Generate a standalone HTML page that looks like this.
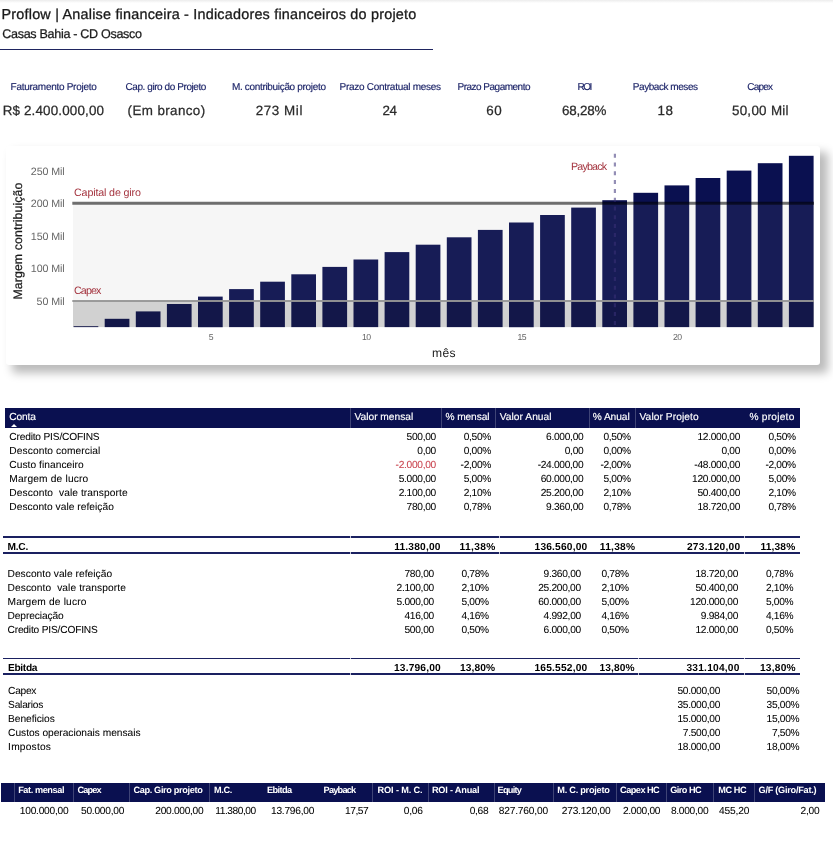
<!DOCTYPE html>
<html lang="pt-BR"><head><meta charset="utf-8"><title>Proflow | Analise financeira</title>
<style>
*{margin:0;padding:0;box-sizing:border-box}
html,body{width:833px;height:842px;background:#fff;overflow:hidden}
body{position:relative;font-family:"Liberation Sans", sans-serif;-webkit-font-smoothing:antialiased;text-rendering:geometricPrecision}
.page{position:absolute;left:0;top:0;width:833px;height:842px;overflow:hidden;background:#fff}
.page span{position:absolute;white-space:pre;line-height:14px;height:14px;display:block}
.topfade{position:absolute;left:0;top:0;width:833px;height:3px;background:linear-gradient(#ececec,#fff)}
.rule{position:absolute;left:0;top:49px;width:433px;height:1.4px;background:#1f2560}
.t1{font-size:14.4px;color:#1a1a1a;-webkit-text-stroke-width:0.3px}
.t2{font-size:12.6px;color:#1a1a1a;-webkit-text-stroke-width:0.25px}
.kl{font-size:10px;color:#1c2468;-webkit-text-stroke-width:0.15px}
.kv{font-size:13.4px;color:#2b2b2b;-webkit-text-stroke-width:0.25px}
.card{position:absolute;left:6px;top:146px;width:814px;height:218.8px;background:#fff;border-radius:3px;box-shadow:7px 7px 10px 1px rgba(0,0,0,0.27)}
.chart{position:absolute;left:0;top:0}
.chart text{font-family:"Liberation Sans", sans-serif}
.ax{font-size:10.4px;color:#666}
.thead{position:absolute;left:5px;top:408.3px;width:794.6px;height:20.1px;background:#0a1050}
.bhead{position:absolute;left:1.3px;top:783.3px;width:823.3px;height:18.6px;background:#0a1050}
.th{font-size:10.2px;color:#fff;-webkit-text-stroke-width:0.15px}
.td{font-size:10.2px;color:#000;-webkit-text-stroke-width:0.06px}
.tot{font-size:10.2px;font-weight:700;color:#000}
.bth{font-size:9.2px;font-weight:700;color:#fff}
.btd{font-size:10.2px;color:#000;-webkit-text-stroke-width:0.06px}
.vs{position:absolute;width:1px;display:block}
.hl{position:absolute;display:block;background:#1a2060}
.hg{position:absolute;display:block;width:1px;background:rgba(255,255,255,0.75)}
.tri{position:absolute;left:10.6px;top:424px;width:0;height:0;border-left:3px solid transparent;border-right:3px solid transparent;border-bottom:3.2px solid #fff}
</style></head>
<body><div class="page">
<div class="topfade"></div>
<header>
<span class="t1" style="left:1.50px;top:8px;letter-spacing:0.210px;">Proflow | Analise financeira - Indicadores financeiros do projeto</span>
<span class="t2" style="left:2.30px;top:27px;letter-spacing:-0.331px;">Casas Bahia - CD Osasco</span>
<div class="rule"></div>
</header>
<section class="kpis">
<span class="kl" style="left:10.60px;top:81px;letter-spacing:-0.278px;">Faturamento Projeto</span>
<span class="kl" style="left:125.50px;top:81px;letter-spacing:-0.425px;">Cap. giro do Projeto</span>
<span class="kl" style="left:231.90px;top:81px;letter-spacing:-0.323px;">M. contribuição projeto</span>
<span class="kl" style="left:339.60px;top:81px;letter-spacing:-0.280px;">Prazo Contratual meses</span>
<span class="kl" style="left:457.50px;top:81px;letter-spacing:-0.506px;">Prazo Pagamento</span>
<span class="kl" style="left:577.40px;top:81px;letter-spacing:-1.400px;">ROI</span>
<span class="kl" style="left:632.80px;top:81px;letter-spacing:-0.449px;">Payback meses</span>
<span class="kl" style="left:747.20px;top:81px;letter-spacing:-0.777px;">Capex</span>
<span class="kv" style="left:2.70px;top:104px;letter-spacing:0.159px;">R$ 2.400.000,00</span>
<span class="kv" style="left:127.60px;top:104px;letter-spacing:0.389px;">(Em branco)</span>
<span class="kv" style="left:255.70px;top:104px;letter-spacing:0.585px;">273 Mil</span>
<span class="kv" style="left:382.40px;top:104px;letter-spacing:-0.347px;">24</span>
<span class="kv" style="left:486.30px;top:104px;letter-spacing:0.553px;">60</span>
<span class="kv" style="left:562.00px;top:104px;letter-spacing:-0.222px;">68,28%</span>
<span class="kv" style="left:657.40px;top:104px;letter-spacing:0.553px;">18</span>
<span class="kv" style="left:731.90px;top:104px;letter-spacing:0.293px;">50,00 Mil</span>
</section>
<section class="chartwrap">
<div class="card"></div>
<svg class="chart" width="833" height="400" viewBox="0 0 833 400"><g fill="#0a1050"><rect x="73.6" y="326.2" width="24.7" height="0.9"/><rect x="104.7" y="318.8" width="24.7" height="8.3"/><rect x="135.8" y="311.4" width="24.7" height="15.7"/><rect x="166.9" y="304.0" width="24.7" height="23.1"/><rect x="198.0" y="296.6" width="24.7" height="30.6"/><rect x="229.1" y="289.1" width="24.7" height="38.0"/><rect x="260.2" y="281.7" width="24.7" height="45.4"/><rect x="291.3" y="274.3" width="24.7" height="52.8"/><rect x="322.4" y="266.9" width="24.7" height="60.2"/><rect x="353.5" y="259.5" width="24.7" height="67.6"/><rect x="384.6" y="252.1" width="24.7" height="75.0"/><rect x="415.7" y="244.7" width="24.7" height="82.4"/><rect x="446.8" y="237.3" width="24.7" height="89.8"/><rect x="477.9" y="229.9" width="24.7" height="97.2"/><rect x="509.0" y="222.5" width="24.7" height="104.7"/><rect x="540.1" y="215.0" width="24.7" height="112.1"/><rect x="571.2" y="207.6" width="24.7" height="119.5"/><rect x="602.3" y="200.2" width="24.7" height="126.9"/><rect x="633.4" y="192.8" width="24.7" height="134.3"/><rect x="664.5" y="185.4" width="24.7" height="141.7"/><rect x="695.6" y="178.0" width="24.7" height="149.1"/><rect x="726.7" y="170.6" width="24.7" height="156.5"/><rect x="757.8" y="163.2" width="24.7" height="163.9"/><rect x="788.9" y="155.8" width="24.7" height="171.3"/></g>
<rect x="73" y="203.3" width="741" height="123.8" fill="rgba(160,160,160,0.09)"/>
<rect x="73" y="301" width="741" height="26.1" fill="rgba(0,0,0,0.15)"/>
<line x1="72.3" x2="814" y1="203.3" y2="203.3" stroke="rgba(0,0,0,0.56)" stroke-width="2.9"/>
<line x1="72.3" x2="814" y1="301" y2="301" stroke="rgba(150,150,150,0.95)" stroke-width="2.2"/>
<line x1="614.9" x2="614.9" y1="153.7" y2="327.1" stroke="rgba(58,50,120,0.55)" stroke-width="2.2" stroke-dasharray="4 4.8"/>
<text transform="translate(22.1 299.6) rotate(-90)" font-size="12.3" fill="#1a1a1a" stroke="#1a1a1a" stroke-width="0.25" textLength="117" lengthAdjust="spacing">Margem contribuição</text></svg>
<span class="ax" style="left:30.80px;top:165px;letter-spacing:-0.113px;font-size:10.7px;color:#666666;">250 Mil</span>
<span class="ax" style="left:30.80px;top:197px;letter-spacing:-0.113px;font-size:10.7px;color:#666666;">200 Mil</span>
<span class="ax" style="left:30.80px;top:230px;letter-spacing:-0.113px;font-size:10.7px;color:#666666;">150 Mil</span>
<span class="ax" style="left:30.80px;top:262px;letter-spacing:-0.113px;font-size:10.7px;color:#666666;">100 Mil</span>
<span class="ax" style="left:36.60px;top:295px;letter-spacing:-0.107px;font-size:10.7px;color:#666666;">50 Mil</span>
<span class="ax" style="left:208.75px;top:330px;letter-spacing:-0.300px;font-size:8.7px;color:#666666;">5</span>
<span class="ax" style="left:361.90px;top:330px;letter-spacing:-0.432px;font-size:8.7px;color:#666666;">10</span>
<span class="ax" style="left:517.40px;top:330px;letter-spacing:-0.432px;font-size:8.7px;color:#666666;">15</span>
<span class="ax" style="left:672.90px;top:330px;letter-spacing:-0.432px;font-size:8.7px;color:#666666;">20</span>
<span class="ax" style="left:431.90px;top:346px;letter-spacing:0.450px;font-size:12.1px;color:#1a1a1a;">mês</span>
<span class="ax" style="left:74.00px;top:186px;letter-spacing:-0.141px;font-size:10.7px;color:#a4343f;">Capital de giro</span>
<span class="ax" style="left:74.00px;top:284px;letter-spacing:-0.887px;font-size:10.7px;color:#a4343f;">Capex</span>
<span class="ax" style="left:571.00px;top:160px;letter-spacing:-0.825px;font-size:10.7px;color:#a4343f;">Payback</span>
</section>
<section class="table">
<div class="thead"></div>
<i class="vs" style="left:350.3px;top:408.3px;height:20.1px;background:rgba(255,255,255,0.22)"></i><i class="vs" style="left:441.4px;top:408.3px;height:20.1px;background:rgba(255,255,255,0.22)"></i><i class="vs" style="left:495.0px;top:408.3px;height:20.1px;background:rgba(255,255,255,0.22)"></i><i class="vs" style="left:588.8px;top:408.3px;height:20.1px;background:rgba(255,255,255,0.22)"></i><i class="vs" style="left:635.4px;top:408.3px;height:20.1px;background:rgba(255,255,255,0.22)"></i>
<div class="tri"></div>
<span class="th" style="left:9.20px;top:411px;letter-spacing:-0.105px;">Conta</span>
<span class="th" style="left:354.50px;top:411px;">Valor mensal</span>
<span class="th" style="left:445.50px;top:411px;letter-spacing:-0.109px;">% mensal</span>
<span class="th" style="left:499.80px;top:411px;letter-spacing:0.035px;">Valor Anual</span>
<span class="th" style="left:592.70px;top:411px;letter-spacing:-0.064px;">% Anual</span>
<span class="th" style="left:639.50px;top:411px;letter-spacing:0.086px;">Valor Projeto</span>
<span class="th" style="left:749.40px;top:411px;letter-spacing:0.241px;">% projeto</span>
<span class="td" style="left:9.30px;top:431px;letter-spacing:-0.183px;">Credito PIS/COFINS</span>
<span class="td" style="left:406.61px;top:431px;letter-spacing:-0.300px;">500,00</span>
<span class="td" style="left:463.67px;top:431px;letter-spacing:-0.300px;">0,50%</span>
<span class="td" style="left:546.11px;top:431px;letter-spacing:-0.300px;">6.000,00</span>
<span class="td" style="left:603.47px;top:431px;letter-spacing:-0.300px;">0,50%</span>
<span class="td" style="left:697.44px;top:431px;letter-spacing:-0.300px;">12.000,00</span>
<span class="td" style="left:768.47px;top:431px;letter-spacing:-0.300px;">0,50%</span>
<span class="td" style="left:9.30px;top:445px;letter-spacing:0.094px;">Desconto comercial</span>
<span class="td" style="left:417.34px;top:445px;letter-spacing:-0.300px;">0,00</span>
<span class="td" style="left:463.67px;top:445px;letter-spacing:-0.300px;">0,00%</span>
<span class="td" style="left:564.74px;top:445px;letter-spacing:-0.300px;">0,00</span>
<span class="td" style="left:603.47px;top:445px;letter-spacing:-0.300px;">0,00%</span>
<span class="td" style="left:721.44px;top:445px;letter-spacing:-0.300px;">0,00</span>
<span class="td" style="left:768.47px;top:445px;letter-spacing:-0.300px;">0,00%</span>
<span class="td" style="left:9.30px;top:459px;letter-spacing:0.050px;">Custo financeiro</span>
<span class="td" style="left:395.62px;top:459px;letter-spacing:-0.300px;color:#c9434e;">-2.000,00</span>
<span class="td" style="left:460.58px;top:459px;letter-spacing:-0.300px;">-2,00%</span>
<span class="td" style="left:537.65px;top:459px;letter-spacing:-0.300px;">-24.000,00</span>
<span class="td" style="left:600.38px;top:459px;letter-spacing:-0.300px;">-2,00%</span>
<span class="td" style="left:694.35px;top:459px;letter-spacing:-0.300px;">-48.000,00</span>
<span class="td" style="left:765.38px;top:459px;letter-spacing:-0.300px;">-2,00%</span>
<span class="td" style="left:9.30px;top:473px;letter-spacing:0.181px;">Margem de lucro</span>
<span class="td" style="left:398.71px;top:473px;letter-spacing:-0.300px;">5.000,00</span>
<span class="td" style="left:463.67px;top:473px;letter-spacing:-0.300px;">5,00%</span>
<span class="td" style="left:540.74px;top:473px;letter-spacing:-0.300px;">60.000,00</span>
<span class="td" style="left:603.47px;top:473px;letter-spacing:-0.300px;">5,00%</span>
<span class="td" style="left:692.08px;top:473px;letter-spacing:-0.300px;">120.000,00</span>
<span class="td" style="left:768.47px;top:473px;letter-spacing:-0.300px;">5,00%</span>
<span class="td" style="left:9.30px;top:487px;letter-spacing:0.095px;">Desconto &nbsp;vale transporte</span>
<span class="td" style="left:398.71px;top:487px;letter-spacing:-0.300px;">2.100,00</span>
<span class="td" style="left:463.67px;top:487px;letter-spacing:-0.300px;">2,10%</span>
<span class="td" style="left:540.74px;top:487px;letter-spacing:-0.300px;">25.200,00</span>
<span class="td" style="left:603.47px;top:487px;letter-spacing:-0.300px;">2,10%</span>
<span class="td" style="left:697.44px;top:487px;letter-spacing:-0.300px;">50.400,00</span>
<span class="td" style="left:768.47px;top:487px;letter-spacing:-0.300px;">2,10%</span>
<span class="td" style="left:9.30px;top:501px;letter-spacing:0.045px;">Desconto vale refeição</span>
<span class="td" style="left:406.61px;top:501px;letter-spacing:-0.300px;">780,00</span>
<span class="td" style="left:463.67px;top:501px;letter-spacing:-0.300px;">0,78%</span>
<span class="td" style="left:546.11px;top:501px;letter-spacing:-0.300px;">9.360,00</span>
<span class="td" style="left:603.47px;top:501px;letter-spacing:-0.300px;">0,78%</span>
<span class="td" style="left:697.44px;top:501px;letter-spacing:-0.300px;">18.720,00</span>
<span class="td" style="left:768.47px;top:501px;letter-spacing:-0.300px;">0,78%</span>
<span class="td" style="left:7.50px;top:568px;letter-spacing:0.045px;">Desconto vale refeição</span>
<span class="td" style="left:404.51px;top:568px;letter-spacing:-0.300px;">780,00</span>
<span class="td" style="left:461.47px;top:568px;letter-spacing:-0.300px;">0,78%</span>
<span class="td" style="left:543.61px;top:568px;letter-spacing:-0.300px;">9.360,00</span>
<span class="td" style="left:601.47px;top:568px;letter-spacing:-0.300px;">0,78%</span>
<span class="td" style="left:695.44px;top:568px;letter-spacing:-0.300px;">18.720,00</span>
<span class="td" style="left:765.97px;top:568px;letter-spacing:-0.300px;">0,78%</span>
<span class="td" style="left:7.50px;top:582px;letter-spacing:0.095px;">Desconto &nbsp;vale transporte</span>
<span class="td" style="left:396.61px;top:582px;letter-spacing:-0.300px;">2.100,00</span>
<span class="td" style="left:461.47px;top:582px;letter-spacing:-0.300px;">2,10%</span>
<span class="td" style="left:538.24px;top:582px;letter-spacing:-0.300px;">25.200,00</span>
<span class="td" style="left:601.47px;top:582px;letter-spacing:-0.300px;">2,10%</span>
<span class="td" style="left:695.44px;top:582px;letter-spacing:-0.300px;">50.400,00</span>
<span class="td" style="left:765.97px;top:582px;letter-spacing:-0.300px;">2,10%</span>
<span class="td" style="left:7.50px;top:596px;letter-spacing:0.181px;">Margem de lucro</span>
<span class="td" style="left:396.61px;top:596px;letter-spacing:-0.300px;">5.000,00</span>
<span class="td" style="left:461.47px;top:596px;letter-spacing:-0.300px;">5,00%</span>
<span class="td" style="left:538.24px;top:596px;letter-spacing:-0.300px;">60.000,00</span>
<span class="td" style="left:601.47px;top:596px;letter-spacing:-0.300px;">5,00%</span>
<span class="td" style="left:690.08px;top:596px;letter-spacing:-0.300px;">120.000,00</span>
<span class="td" style="left:765.97px;top:596px;letter-spacing:-0.300px;">5,00%</span>
<span class="td" style="left:7.50px;top:610px;letter-spacing:-0.103px;">Depreciação</span>
<span class="td" style="left:404.51px;top:610px;letter-spacing:-0.300px;">416,00</span>
<span class="td" style="left:461.47px;top:610px;letter-spacing:-0.300px;">4,16%</span>
<span class="td" style="left:543.61px;top:610px;letter-spacing:-0.300px;">4.992,00</span>
<span class="td" style="left:601.47px;top:610px;letter-spacing:-0.300px;">4,16%</span>
<span class="td" style="left:700.81px;top:610px;letter-spacing:-0.300px;">9.984,00</span>
<span class="td" style="left:765.97px;top:610px;letter-spacing:-0.300px;">4,16%</span>
<span class="td" style="left:7.50px;top:624px;letter-spacing:-0.183px;">Credito PIS/COFINS</span>
<span class="td" style="left:404.51px;top:624px;letter-spacing:-0.300px;">500,00</span>
<span class="td" style="left:461.47px;top:624px;letter-spacing:-0.300px;">0,50%</span>
<span class="td" style="left:543.61px;top:624px;letter-spacing:-0.300px;">6.000,00</span>
<span class="td" style="left:601.47px;top:624px;letter-spacing:-0.300px;">0,50%</span>
<span class="td" style="left:695.44px;top:624px;letter-spacing:-0.300px;">12.000,00</span>
<span class="td" style="left:765.97px;top:624px;letter-spacing:-0.300px;">0,50%</span>
<span class="td" style="left:8.10px;top:685px;letter-spacing:-0.289px;">Capex</span>
<span class="td" style="left:677.44px;top:685px;letter-spacing:-0.300px;">50.000,00</span>
<span class="td" style="left:766.61px;top:685px;letter-spacing:-0.300px;">50,00%</span>
<span class="td" style="left:8.10px;top:699px;letter-spacing:-0.230px;">Salarios</span>
<span class="td" style="left:677.44px;top:699px;letter-spacing:-0.300px;">35.000,00</span>
<span class="td" style="left:766.61px;top:699px;letter-spacing:-0.300px;">35,00%</span>
<span class="td" style="left:8.10px;top:713px;letter-spacing:-0.034px;">Beneficios</span>
<span class="td" style="left:677.44px;top:713px;letter-spacing:-0.300px;">15.000,00</span>
<span class="td" style="left:766.61px;top:713px;letter-spacing:-0.300px;">15,00%</span>
<span class="td" style="left:8.10px;top:727px;letter-spacing:-0.026px;">Custos operacionais mensais</span>
<span class="td" style="left:682.81px;top:727px;letter-spacing:-0.300px;">7.500,00</span>
<span class="td" style="left:771.97px;top:727px;letter-spacing:-0.300px;">7,50%</span>
<span class="td" style="left:8.10px;top:741px;letter-spacing:0.209px;">Impostos</span>
<span class="td" style="left:677.44px;top:741px;letter-spacing:-0.300px;">18.000,00</span>
<span class="td" style="left:766.61px;top:741px;letter-spacing:-0.300px;">18,00%</span>
<i class="hl" style="left:3.3px;top:536.25px;width:796.5px;height:1.5px"></i><i class="hg" style="left:350.0px;top:535.95px;height:2.1px"></i><i class="hg" style="left:499.0px;top:535.95px;height:2.1px"></i><i class="hg" style="left:743.7px;top:535.95px;height:2.1px"></i>
<i class="hl" style="left:3.3px;top:551.95px;width:796.5px;height:1.9px"></i><i class="hg" style="left:350.0px;top:551.65px;height:2.5px"></i><i class="hg" style="left:499.0px;top:551.65px;height:2.5px"></i><i class="hg" style="left:743.7px;top:551.65px;height:2.5px"></i>
<i class="hl" style="left:3.3px;top:657.85px;width:796.5px;height:1.5px"></i><i class="hg" style="left:350.0px;top:657.55px;height:2.1px"></i><i class="hg" style="left:638.0px;top:657.55px;height:2.1px"></i><i class="hg" style="left:743.7px;top:657.55px;height:2.1px"></i>
<i class="hl" style="left:3.3px;top:673.15px;width:796.5px;height:1.9px"></i><i class="hg" style="left:350.0px;top:672.85px;height:2.5px"></i><i class="hg" style="left:638.0px;top:672.85px;height:2.5px"></i><i class="hg" style="left:743.7px;top:672.85px;height:2.5px"></i>
<span class="tot" style="left:7.50px;top:541px;letter-spacing:-0.258px;">M.C.</span>
<span class="tot" style="left:394.20px;top:541px;letter-spacing:0.188px;">11.380,00</span>
<span class="tot" style="left:459.60px;top:541px;letter-spacing:0.354px;">11,38%</span>
<span class="tot" style="left:534.60px;top:541px;letter-spacing:0.175px;">136.560,00</span>
<span class="tot" style="left:599.80px;top:541px;letter-spacing:0.254px;">11,38%</span>
<span class="tot" style="left:686.90px;top:541px;letter-spacing:0.253px;">273.120,00</span>
<span class="tot" style="left:760.40px;top:541px;letter-spacing:0.174px;">11,38%</span>
<span class="tot" style="left:8.00px;top:662px;letter-spacing:-0.333px;">Ebitda</span>
<span class="tot" style="left:394.00px;top:662px;letter-spacing:0.168px;">13.796,00</span>
<span class="tot" style="left:460.00px;top:662px;letter-spacing:0.101px;">13,80%</span>
<span class="tot" style="left:534.50px;top:662px;letter-spacing:0.198px;">165.552,00</span>
<span class="tot" style="left:599.50px;top:662px;letter-spacing:0.121px;">13,80%</span>
<span class="tot" style="left:686.50px;top:662px;letter-spacing:0.209px;">331.104,00</span>
<span class="tot" style="left:760.00px;top:662px;letter-spacing:0.201px;">13,80%</span>
</section>
<section class="bottom">
<div class="bhead"></div>
<i class="vs" style="left:13.8px;top:783.3px;height:18.6px;background:rgba(255,255,255,0.22)"></i><i class="vs" style="left:73.4px;top:783.3px;height:18.6px;background:rgba(255,255,255,0.22)"></i><i class="vs" style="left:128.6px;top:783.3px;height:18.6px;background:rgba(255,255,255,0.22)"></i><i class="vs" style="left:209.1px;top:783.3px;height:18.6px;background:rgba(255,255,255,0.22)"></i><i class="vs" style="left:372.3px;top:783.3px;height:18.6px;background:rgba(255,255,255,0.22)"></i><i class="vs" style="left:427.5px;top:783.3px;height:18.6px;background:rgba(255,255,255,0.22)"></i><i class="vs" style="left:493.9px;top:783.3px;height:18.6px;background:rgba(255,255,255,0.22)"></i><i class="vs" style="left:552.7px;top:783.3px;height:18.6px;background:rgba(255,255,255,0.22)"></i><i class="vs" style="left:616.0px;top:783.3px;height:18.6px;background:rgba(255,255,255,0.22)"></i><i class="vs" style="left:665.5px;top:783.3px;height:18.6px;background:rgba(255,255,255,0.22)"></i><i class="vs" style="left:713.4px;top:783.3px;height:18.6px;background:rgba(255,255,255,0.22)"></i><i class="vs" style="left:753.5px;top:783.3px;height:18.6px;background:rgba(255,255,255,0.22)"></i>
<span class="bth" style="left:18.20px;top:783px;letter-spacing:-0.430px;">Fat. mensal</span>
<span class="bth" style="left:77.60px;top:783px;letter-spacing:-0.892px;">Capex</span>
<span class="bth" style="left:133.40px;top:783px;letter-spacing:-0.351px;">Cap. Giro projeto</span>
<span class="bth" style="left:214.10px;top:783px;letter-spacing:-0.380px;">M.C.</span>
<span class="bth" style="left:267.10px;top:783px;letter-spacing:-0.633px;">Ebitda</span>
<span class="bth" style="left:323.60px;top:783px;letter-spacing:-0.780px;">Payback</span>
<span class="bth" style="left:377.60px;top:783px;letter-spacing:-0.139px;">ROI - M. C.</span>
<span class="bth" style="left:431.90px;top:783px;letter-spacing:-0.207px;">ROI - Anual</span>
<span class="bth" style="left:497.60px;top:783px;letter-spacing:-0.753px;">Equity</span>
<span class="bth" style="left:557.30px;top:783px;letter-spacing:-0.260px;">M. C. projeto</span>
<span class="bth" style="left:620.10px;top:783px;letter-spacing:-0.538px;">Capex HC</span>
<span class="bth" style="left:670.20px;top:783px;letter-spacing:-0.529px;">Giro HC</span>
<span class="bth" style="left:718.20px;top:783px;letter-spacing:-0.394px;">MC HC</span>
<span class="bth" style="left:758.50px;top:783px;letter-spacing:-0.264px;">G/F (Giro/Fat.)</span>
<span class="btd" style="left:19.80px;top:805px;letter-spacing:-0.247px;">100.000,00</span>
<span class="btd" style="left:81.00px;top:805px;letter-spacing:-0.244px;">50.000,00</span>
<span class="btd" style="left:155.30px;top:805px;letter-spacing:-0.291px;">200.000,00</span>
<span class="btd" style="left:215.30px;top:805px;letter-spacing:-0.462px;">11.380,00</span>
<span class="btd" style="left:271.00px;top:805px;letter-spacing:-0.244px;">13.796,00</span>
<span class="btd" style="left:345.00px;top:805px;letter-spacing:-0.457px;">17,57</span>
<span class="btd" style="left:403.70px;top:805px;letter-spacing:-0.187px;">0,06</span>
<span class="btd" style="left:469.70px;top:805px;letter-spacing:-0.287px;">0,68</span>
<span class="btd" style="left:498.80px;top:805px;letter-spacing:-0.191px;">827.760,00</span>
<span class="btd" style="left:561.80px;top:805px;letter-spacing:-0.236px;">273.120,00</span>
<span class="btd" style="left:623.00px;top:805px;letter-spacing:-0.313px;">2.000,00</span>
<span class="btd" style="left:670.90px;top:805px;letter-spacing:-0.284px;">8.000,00</span>
<span class="btd" style="left:719.00px;top:805px;letter-spacing:-0.139px;">455,20</span>
<span class="btd" style="left:800.60px;top:805px;letter-spacing:-0.287px;">2,00</span>
</section>
</div></body></html>
